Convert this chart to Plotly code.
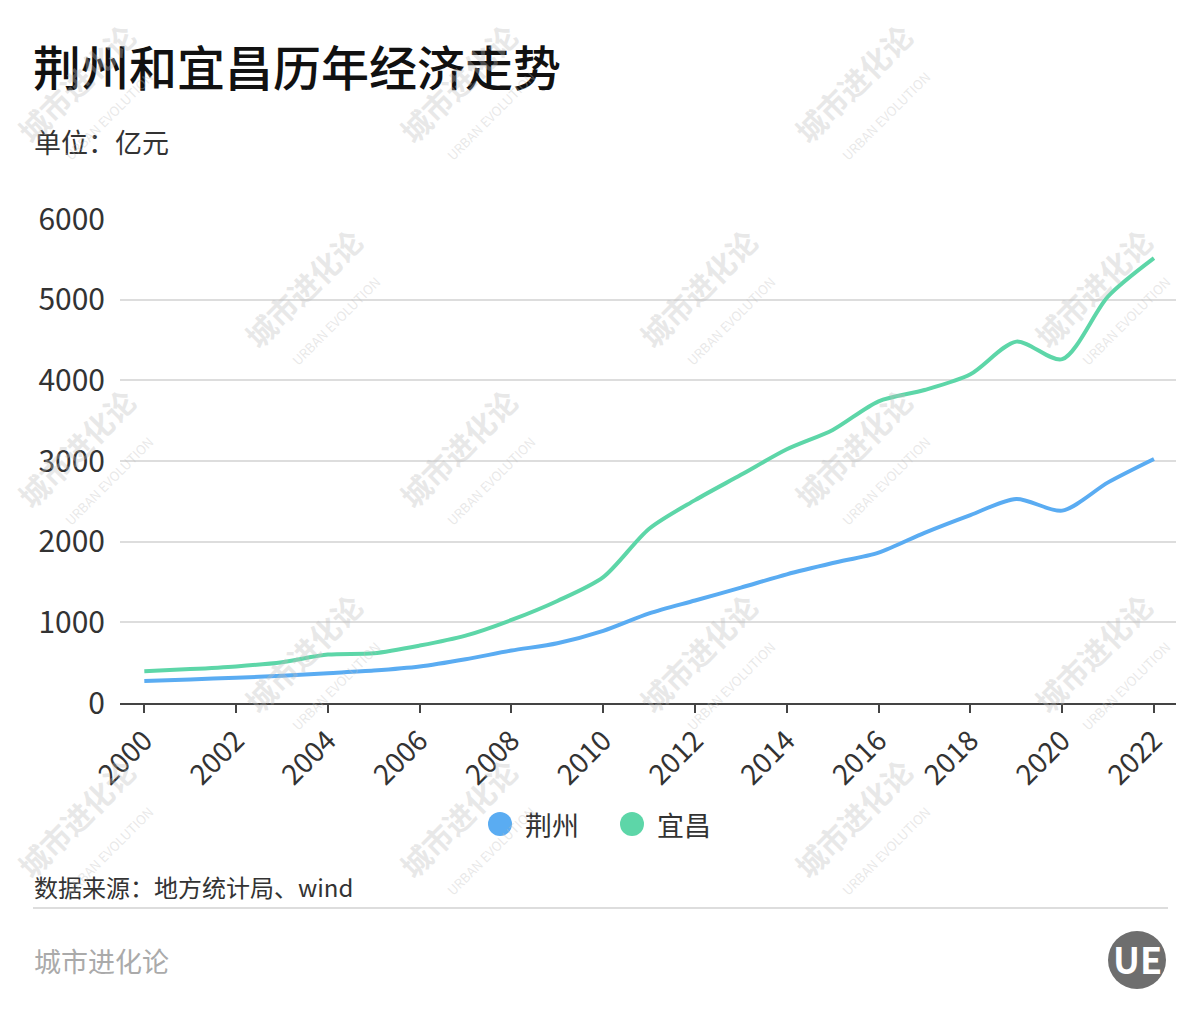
import plotly.graph_objects as go

# ============================================================
# Data (亿元)
# ============================================================

years = list(range(2000, 2023))

jingzhou = [272, 292, 313, 337, 370, 403, 453, 543, 650, 741, 894, 1110, 1270,
            1430, 1595, 1735, 1865, 2110, 2330, 2530, 2385, 2735, 3025]

yichang = [395, 420, 453, 506, 600, 617, 712, 835, 1029, 1265, 1560, 2160, 2515,
           2828, 3145, 3385, 3740, 3880, 4075, 4480, 4262, 5041, 5515]

series_names = ["荆州", "宜昌"]
series_colors = ["#5aacf2", "#5dd6a8"]

# page body has an 8px margin, so the figure origin sits at (8, 8)
OFF = 8
W, H = 1192, 1012
ML, MR, MT, MB = 120 - OFF, 32 - OFF, 219 - OFF, 317
FONT = "Noto Sans CJK SC"


def px(x):
    return (x - OFF - ML) / (W - ML - MR)


def py(y):
    return (H - MB - (y - OFF)) / (H - MT - MB)


fig = go.Figure()

for name, vals, color in zip(series_names, [jingzhou, yichang], series_colors):
    fig.add_trace(
        go.Scatter(
            x=years,
            y=vals,
            name=name,
            mode="lines",
            line=dict(color=color, width=4, shape="spline", smoothing=0.8),
            showlegend=False,
        )
    )

# ============================================================
# Text / decorations
# ============================================================

annotations = [
    dict(x=px(31), y=py(65), text="荆州和宜昌历年经济走势", font=dict(size=48, color="#111", weight=500),
         xanchor="left", yanchor="middle"),
    dict(x=px(32), y=py(141), text="单位：亿元", font=dict(size=27, color="#333"),
         xanchor="left", yanchor="middle"),
    dict(x=px(32), y=py(886), text="数据来源：地方统计局、wind", font=dict(size=24, color="#333"),
         xanchor="left", yanchor="middle"),
    dict(x=px(32), y=py(960), text="城市进化论", font=dict(size=27, color="#aaa"),
         xanchor="left", yanchor="middle"),
    dict(x=px(1137), y=py(958), text="<b>UE</b>", font=dict(size=36, color="white"),
         xanchor="center", yanchor="middle"),
]

shapes = [
    dict(type="line", x0=px(33), x1=px(1168), y0=py(908), y1=py(908),
         line=dict(color="#dddddd", width=2)),
    dict(type="circle", x0=px(1108), x1=px(1166), y0=py(931), y1=py(989),
         fillcolor="#6e6e6e", line=dict(width=0)),
]

# legend
legend_x = [500, 632]
for name, color, lx in zip(series_names, series_colors, legend_x):
    shapes.append(dict(type="circle", x0=px(lx - 12), x1=px(lx + 12), y0=py(812), y1=py(836),
                       fillcolor=color, line=dict(width=0)))
    annotations.append(dict(x=px(lx + 23), y=py(824), text=name, font=dict(size=27, color="#333"),
                            xanchor="left", yanchor="middle"))

for s in shapes:
    s.update(xref="paper", yref="paper")

# watermarks
wm_pos = [(88, 95), (470, 95), (865, 95),
          (315, 300), (710, 300), (1105, 300),
          (88, 460), (470, 460), (865, 460),
          (315, 665), (710, 665), (1105, 665),
          (88, 830), (470, 830), (865, 830)]
for wx, wy in wm_pos:
    annotations.append(dict(
        x=px(wx), y=py(wy), textangle=-45,
        text="<b>城市进化论</b><br><span style='font-size:13px'>URBAN EVOLUTION</span>",
        font=dict(size=30, color="rgba(190,190,190,0.35)"),
        xanchor="center", yanchor="middle",
    ))

for a in annotations:
    a.update(xref="paper", yref="paper", showarrow=False)

fig.update_layout(
    width=W,
    height=H,
    margin=dict(l=ML, r=MR, t=MT, b=MB),
    paper_bgcolor="white",
    plot_bgcolor="white",
    font=dict(family=FONT, color="#333"),
    showlegend=False,
    annotations=annotations,
    shapes=shapes,
    xaxis=dict(
        range=[1999.47, 2022.48],
        tickmode="array",
        tickvals=years[::2],
        ticktext=[str(y) for y in years[::2]],
        tickangle=-45,
        tickfont=dict(size=28, color="#333"),
        ticks="outside",
        ticklen=8,
        tickwidth=2,
        tickcolor="#444",
        showgrid=False,
        showline=True,
        linecolor="#444",
        linewidth=2,
        zeroline=False,
    ),
    yaxis=dict(
        range=[0, 6000],
        tickvals=[0, 1000, 2000, 3000, 4000, 5000, 6000],
        tickfont=dict(size=30, color="#333"),
        showgrid=True,
        gridcolor="#dddddd",
        gridwidth=2,
        zeroline=False,
        ticks="",
        ticklabelstandoff=14,
    ),
)

fig.write_html("out.html")
